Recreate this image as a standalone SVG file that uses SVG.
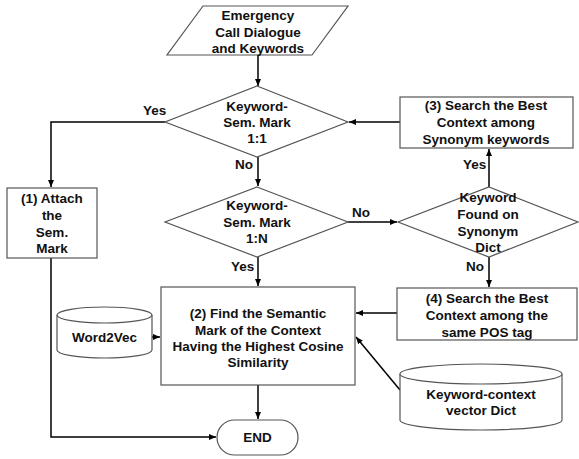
<svg xmlns="http://www.w3.org/2000/svg" width="579" height="459" viewBox="0 0 579 459">
<defs>
<marker id="ah" markerWidth="8" markerHeight="8" refX="7" refY="4" orient="auto" markerUnits="userSpaceOnUse">
<path d="M0,1 L7,4 L0,7 Z" fill="#000"/>
</marker>
<style>
.shape{fill:#fff;stroke:#555;stroke-width:1.2}
.t{font-family:"Liberation Sans","Noto Sans",sans-serif;font-weight:bold;font-size:13.5px;fill:#111;text-anchor:middle}
.l{font-family:"Liberation Sans","Noto Sans",sans-serif;font-weight:bold;font-size:13.5px;fill:#111}
.c{fill:none;stroke:#000;stroke-width:1.5}
</style>
</defs>
<rect width="579" height="459" fill="#fff"/>
<g id="connectors">
<path class="c" d="M258,55 V86" marker-end="url(#ah)"/>
<path class="c" d="M165,122 H51 V187" marker-end="url(#ah)"/>
<path class="c" d="M258,157 V186" marker-end="url(#ah)"/>
<path class="c" d="M348,222 H397" marker-end="url(#ah)"/>
<path class="c" d="M258,257 V286" marker-end="url(#ah)"/>
<path class="c" d="M489,187 V149" marker-end="url(#ah)"/>
<path class="c" d="M400,122 H349" marker-end="url(#ah)"/>
<path class="c" d="M489,257 V287" marker-end="url(#ah)"/>
<path class="c" d="M397,313 H356" marker-end="url(#ah)"/>
<path class="c" d="M400,390 L356,337" marker-end="url(#ah)"/>
<path class="c" d="M152,337 H160" marker-end="url(#ah)"/>
<path class="c" d="M258,385 V419" marker-end="url(#ah)"/>
<path class="c" d="M51,258 V437 H216" marker-end="url(#ah)"/>
<text class="l" x="143" y="115">Yes</text>
<text class="l" x="235" y="169">No</text>
<text class="l" x="352" y="217">No</text>
<text class="l" x="231" y="271">Yes</text>
<text class="l" x="463" y="169">Yes</text>
<text class="l" x="466" y="271">No</text>
</g>
<g id="input">
<polygon class="shape" points="203,6 348,6 312,55 167,55"/>
<text class="t" x="258" y="20">Emergency</text>
<text class="t" x="258" y="37">Call Dialogue</text>
<text class="t" x="258" y="53">and Keywords</text>
</g>
<g id="decision-1to1">
<polygon class="shape" points="257,86 348,122 257,157 165,122"/>
<text class="t" x="257" y="111">Keyword-</text>
<text class="t" x="257" y="127">Sem. Mark</text>
<text class="t" x="257" y="143">1:1</text>
</g>
<g id="decision-1toN">
<polygon class="shape" points="257,187 348,222 257,257 165,222"/>
<text class="t" x="257" y="210">Keyword-</text>
<text class="t" x="257" y="226.5">Sem. Mark</text>
<text class="t" x="257" y="243">1:N</text>
</g>
<g id="decision-synonym">
<polygon class="shape" points="489,187 578,222 489,257 398,222"/>
<text class="t" x="488" y="202">Keyword</text>
<text class="t" x="488" y="219">Found on</text>
<text class="t" x="488" y="235.5">Synonym</text>
<text class="t" x="488" y="251.5">Dict</text>
</g>
<g id="step1">
<rect class="shape" x="7" y="188" width="90" height="70"/>
<text class="t" x="52" y="203">(1) Attach</text>
<text class="t" x="52" y="220">the</text>
<text class="t" x="52" y="237">Sem.</text>
<text class="t" x="52" y="253">Mark</text>
</g>
<g id="step3">
<rect class="shape" x="400" y="97" width="173" height="51"/>
<text class="t" x="486" y="110">(3) Search the Best</text>
<text class="t" x="486" y="127">Context among</text>
<text class="t" x="486" y="144">Synonym keywords</text>
</g>
<g id="step4">
<rect class="shape" x="397" y="288" width="180" height="52"/>
<text class="t" x="487" y="303">(4) Search the Best</text>
<text class="t" x="487" y="320">Context among the</text>
<text class="t" x="487" y="337">same POS tag</text>
</g>
<g id="step2">
<rect class="shape" x="161" y="287" width="194" height="98"/>
<text class="t" x="258" y="318">(2) Find the Semantic</text>
<text class="t" x="258" y="334.5">Mark of the Context</text>
<text class="t" x="258" y="350.5">Having the Highest Cosine</text>
<text class="t" x="258" y="367">Similarity</text>
</g>
<g id="word2vec">
<path class="shape" d="M57,315 V350 A47.5,8 0 0 0 152,350 V315"/>
<ellipse class="shape" cx="104.5" cy="315" rx="47.5" ry="8"/>
<text class="t" x="104.5" y="342">Word2Vec</text>
</g>
<g id="kc-dict">
<path class="shape" d="M400,374 V420 A81,10 0 0 0 562,420 V374"/>
<ellipse class="shape" cx="481" cy="374" rx="81" ry="10"/>
<text class="t" x="481" y="399">Keyword-context</text>
<text class="t" x="481" y="415">vector Dict</text>
</g>
<g id="end">
<rect class="shape" x="217" y="420" width="81" height="35" rx="17.5"/>
<text class="t" x="257.5" y="442">END</text>
</g>
</svg>
